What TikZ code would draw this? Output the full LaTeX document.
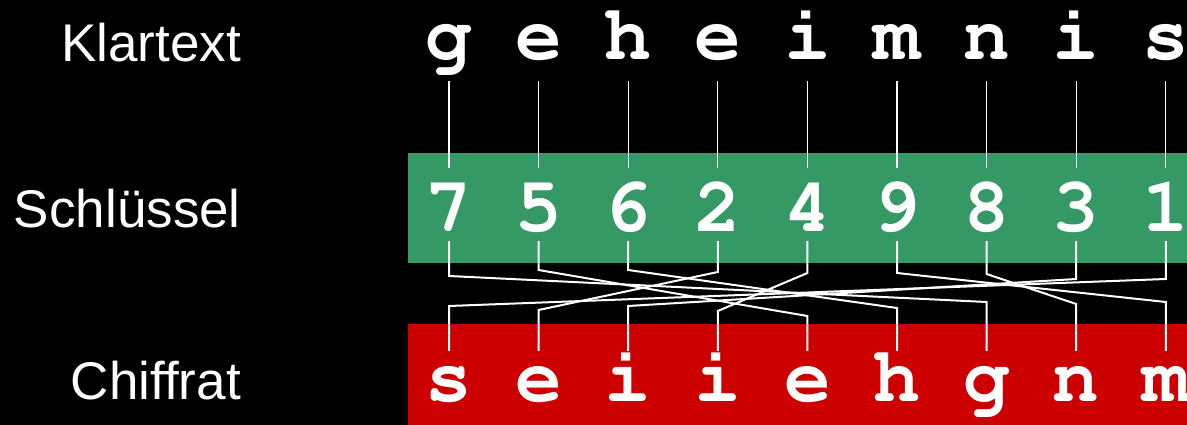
\documentclass[tikz,border=0pt]{standalone}
\usepackage{fontspec}
\setmainfont{Liberation Sans}
\definecolor{keygreen}{RGB}{53,153,102}
\definecolor{cipherred}{RGB}{204,0,0}
\newcommand\courierbold{\fontencoding{T1}\fontfamily{pcr}\fontseries{b}\selectfont}
\tikzset{x=1pt, y=1pt}

\begin{document}
\begin{tikzpicture}[
  chr/.style={text=white, inner sep=0pt, anchor=base,
    font=\fontsize{78}{78}\courierbold},
  lbl/.style={text=white, inner sep=0pt, anchor=base east,
    font=\fontsize{53}{53}\selectfont},
  wire/.style={draw=white, line width=1.3pt},
  swap/.style={draw=white, line width=2pt},
]
\useasboundingbox (0,0) rectangle (1187,-425);
\fill[black] (0,0) rectangle (1187,-425);
\fill[keygreen] (408,-153) rectangle (1187,-263); % key row
\fill[cipherred] (408,-324) rectangle (1187,-425); % cipher row

\node[lbl] (klar) at (241,-62) {Klartext};
\node[lbl] (schl) at (241,-228) {Schlüssel};
\node[lbl] (chif) at (241,-399) {Chiffrat};

% columns are 89.6 apart
\foreach \p [count=\i] in {g,e,h,e,i,m,n,i,s}
\node[chr, text depth=21pt] (p\i) at (449+89.6*\i-89.6,-60) {\p};
\foreach \d [count=\i] in {7,5,6,2,4,9,8,3,1}
\node[chr, text height=63pt, text depth=10pt] (k\i) at (449+89.6*\i-89.6,-231) {\d};
\foreach \c [count=\i] in {s,e,i,i,e,h,g,n,m}
\node[chr, text height=50pt] (c\i) at (449+89.6*\i-89.6,-401) {\c};

% plaintext letter to its key digit
\foreach \i in {1,...,9}
\draw[wire] (p\i.south) -- (k\i.north);

% key digit to the cipher place it names: column/digit/first bend/second bend
\foreach \i/\k/\a/\b in {1/7/276/302, 2/5/270/316, 3/6/270/308, 4/2/272/310,
  5/4/273/311, 6/9/273/302, 7/8/274/304, 8/3/279/306, 9/1/279/306}
\draw[swap] (k\i.south) -- (k\i.south |- 0,-\a) -- (c\k.north |- 0,-\b) -- (c\k.north);
\end{tikzpicture}
\end{document}
